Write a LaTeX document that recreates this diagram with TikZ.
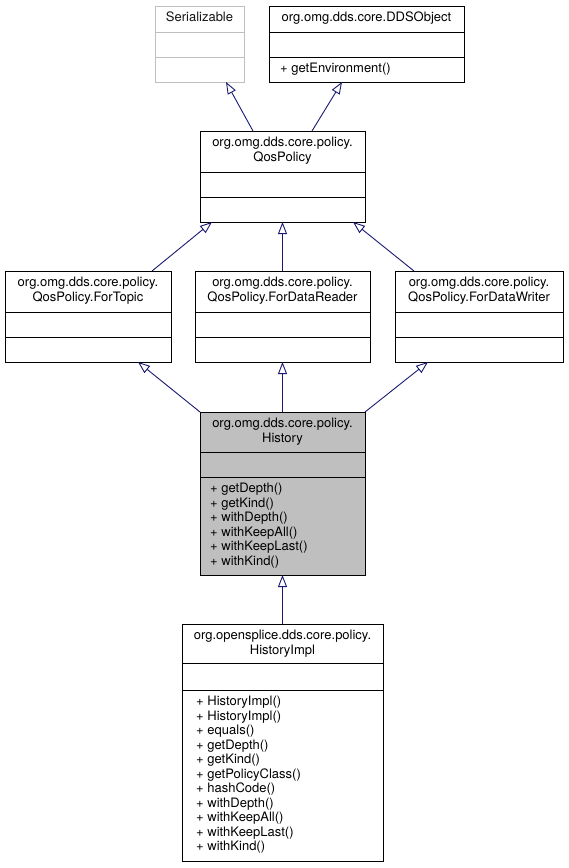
\documentclass[tikz,border=0pt]{standalone}
\usepackage{fontspec}
\setmainfont{TeX Gyre Heros}
\usetikzlibrary{arrows.meta}
\definecolor{edgeblue}{RGB}{25,25,112}
\definecolor{histfill}{RGB}{191,191,191}
\definecolor{sergray}{RGB}{191,191,191}
\definecolor{sertext}{RGB}{20,20,20}
\tikzset{
  cls/.style={draw=black, line width=1pt, fill=white, inner sep=0pt, outer sep=0pt, anchor=north west},
  grayed/.style={cls, draw=sergray},
  hl/.style={cls, fill=histfill},
  divider/.style={line width=1pt, draw=black},
  graydivider/.style={line width=1pt, draw=sergray},
  title/.style={inner sep=0pt, anchor=north, align=center, font=\fontsize{13}{14.5}\selectfont},
  members/.style={inner sep=0pt, anchor=north west, align=left, font=\fontsize{13}{14.5}\selectfont},
  inherit/.style={draw=edgeblue, line width=0.9pt, -{Triangle[open, length=12pt, width=9pt, line width=0.9pt]}},
}
\begin{document}
\begin{tikzpicture}[x=1pt, y=-1pt]
\useasboundingbox (0,0) rectangle (568,868);

% Serializable
\node[grayed, minimum width=89pt, minimum height=76pt] (ser) at (155,6) {};
\draw[graydivider] (155,32) -- (244,32);
\draw[graydivider] (155,57) -- (244,57);
\node[title, text=sertext] (sert) at (199.5,12) {Serializable};

% DDSObject
\node[cls, minimum width=195pt, minimum height=76pt] (dds) at (269,6) {};
\draw[divider] (269,32) -- (464,32);
\draw[divider] (269,57) -- (464,57);
\node[title] (ddst) at (366.5,12) {org.omg.dds.core.DDSObject};
\node[members] (ddsm) at (280,63) {+ getEnvironment()};

% QosPolicy
\node[cls, minimum width=165pt, minimum height=91pt] (qos) at (200,131) {};
\draw[divider] (200,172) -- (365,172);
\draw[divider] (200,197) -- (365,197);
\node[title] (qost) at (282.5,137) {org.omg.dds.core.policy.\\QosPolicy};

% ForTopic
\node[cls, minimum width=166pt, minimum height=91pt] (ftopic) at (5,271) {};
\draw[divider] (5,312) -- (171,312);
\draw[divider] (5,337) -- (171,337);
\node[title] (ftopict) at (88,277) {org.omg.dds.core.policy.\\QosPolicy.ForTopic};

% ForDataReader
\node[cls, minimum width=175pt, minimum height=91pt] (freader) at (195,271) {};
\draw[divider] (195,312) -- (370,312);
\draw[divider] (195,337) -- (370,337);
\node[title] (freadert) at (282.5,277) {org.omg.dds.core.policy.\\QosPolicy.ForDataReader};

% ForDataWriter
\node[cls, minimum width=168pt, minimum height=91pt] (fwriter) at (395,271) {};
\draw[divider] (395,312) -- (563,312);
\draw[divider] (395,337) -- (563,337);
\node[title] (fwritert) at (479,277) {org.omg.dds.core.policy.\\QosPolicy.ForDataWriter};

% History
\node[hl, minimum width=165pt, minimum height=163pt] (hist) at (200,412) {};
\draw[divider] (200,452) -- (365,452);
\draw[divider] (200,477) -- (365,477);
\node[title] (histt) at (282.5,418) {org.omg.dds.core.policy.\\History};
\node[members] (histm) at (210,483) {+ getDepth()\\+ getKind()\\+ withDepth()\\+ withKeepAll()\\+ withKeepLast()\\+ withKind()};

% HistoryImpl
\node[cls, minimum width=201pt, minimum height=237pt] (impl) at (182,624) {};
\draw[divider] (182,663) -- (383,663);
\draw[divider] (182,690) -- (383,690);
\node[title] (implt) at (282.5,630) {org.opensplice.dds.core.policy.\\HistoryImpl};
\node[members] (implm) at (196,696) {+ HistoryImpl()\\+ HistoryImpl()\\+ equals()\\+ getDepth()\\+ getKind()\\+ getPolicyClass()\\+ hashCode()\\+ withDepth()\\+ withKeepAll()\\+ withKeepLast()\\+ withKind()};

% inheritance edges
\draw[inherit] ([xshift=-29.5pt]qos.north) -- ([xshift=26.5pt]ser.south);
\draw[inherit] ([xshift=29.5pt]qos.north) -- ([xshift=-24.5pt]dds.south);
\draw[inherit] ([xshift=64pt]ftopic.north) -- ([xshift=-70.5pt]qos.south);
\draw[inherit] (freader.north) -- (qos.south);
\draw[inherit] ([xshift=-65pt]fwriter.north) -- ([xshift=70.5pt]qos.south);
\draw[inherit] (hist.north west) -- ([xshift=50pt]ftopic.south);
\draw[inherit] (hist.north) -- (freader.south);
\draw[inherit] (hist.north east) -- ([xshift=-51pt]fwriter.south);
\draw[inherit] (impl.north) -- (hist.south);
\end{tikzpicture}
\end{document}
